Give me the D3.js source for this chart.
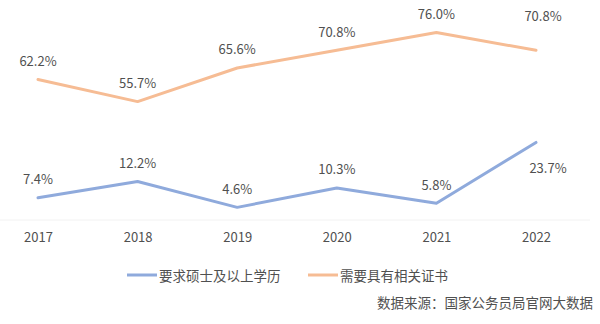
<!DOCTYPE html>
<html>
<head>
<meta charset="utf-8">
<script src="https://cdn.jsdelivr.net/npm/d3@7"></script>
<style>
  html, body { margin: 0; padding: 0; background: #fff; }
  svg { display: block; }
  text { font-family: "Noto Sans CJK SC", "Microsoft YaHei", sans-serif; }
</style>
</head>
<body>
<svg id="chart" width="600" height="324"></svg>
<script>
// Years on the x axis
const years = ["2017", "2018", "2019", "2020", "2021", "2022"];
// Share of positions requiring a master's degree or above (%)
const masterDegree = [7.4, 12.2, 4.6, 10.3, 5.8, 23.7];
// Share of positions requiring a relevant certificate (%)
const certificate = [62.2, 55.7, 65.6, 70.8, 76.0, 70.8];
// Legend names
const seriesNames = ["要求硕士及以上学历", "需要具有相关证书"];
const sourceNote = "数据来源：国家公务员局官网大数据";

const svg = d3.select("#chart");
const W = 600, H = 324;

const x = d3.scalePoint().domain(years).range([38, 536]);
// Primary axis for the degree series, secondary axis for certificates
const yLeft = d3.scaleLinear().domain([0, 60]).range([223, 19]);
const yRight = d3.scaleLinear().domain([20, 80]).range([223, 19]);

const blue = "#8faadc";
const orange = "#f6bc94";
const labelColor = "#505050";

// faint baseline
svg.append("line")
  .attr("x1", 0).attr("x2", 590)
  .attr("y1", 220).attr("y2", 220)
  .attr("stroke", "#f2f2f2").attr("stroke-width", 1);

// x axis labels (no domain line or ticks)
const xAxis = d3.axisBottom(x).tickSize(0).tickPadding(0);
const gx = svg.append("g").attr("transform", "translate(0,233)").call(xAxis);
gx.select(".domain").remove();
gx.selectAll("text")
  .attr("font-size", 13)
  .attr("fill", labelColor)
  .attr("dy", "0.71em")
  .style("font-family", "'Noto Sans CJK SC', sans-serif");

const line = (scale) => d3.line()
  .x((d, i) => x(years[i]))
  .y(d => scale(d));

svg.append("path").datum(certificate)
  .attr("d", line(yRight))
  .attr("fill", "none").attr("stroke", orange)
  .attr("stroke-width", 3).attr("stroke-linejoin", "round").attr("stroke-linecap", "round");

svg.append("path").datum(masterDegree)
  .attr("d", line(yLeft))
  .attr("fill", "none").attr("stroke", blue)
  .attr("stroke-width", 3).attr("stroke-linejoin", "round").attr("stroke-linecap", "round");

// Data labels: above each point, the final points shifted to clear the line
function labels(values, scale, lastDx, lastDy) {
  const n = values.length;
  svg.append("g").selectAll("text")
    .data(values)
    .join("text")
    .attr("x", (d, i) => x(years[i]) + (i === n - 1 ? lastDx : 0))
    .attr("y", (d, i) => scale(d) + (i === n - 1 ? lastDy : -19))
    .attr("text-anchor", "middle")
    .attr("dominant-baseline", "central")
    .attr("font-size", 13)
    .attr("fill", labelColor)
    .text(d => d.toFixed(1) + "%");
}
labels(certificate, yRight, 7, -35);
labels(masterDegree, yLeft, 12, 25);

// legend
const legend = svg.append("g");
const legendItems = [
  { name: seriesNames[0], color: blue, x: 127 },
  { name: seriesNames[1], color: orange, x: 308 }
];
legendItems.forEach(item => {
  legend.append("line")
    .attr("x1", item.x).attr("x2", item.x + 30)
    .attr("y1", 275).attr("y2", 275)
    .attr("stroke", item.color).attr("stroke-width", 3);
  legend.append("text")
    .attr("x", item.x + 32).attr("y", 275)
    .attr("dominant-baseline", "central")
    .attr("font-size", 13.5)
    .attr("fill", labelColor)
    .text(item.name);
});

// source note
svg.append("text")
  .attr("x", 593).attr("y", 302)
  .attr("text-anchor", "end")
  .attr("dominant-baseline", "central")
  .attr("font-size", 13.5)
  .attr("fill", labelColor)
  .text(sourceNote);
</script>
</body>
</html>
